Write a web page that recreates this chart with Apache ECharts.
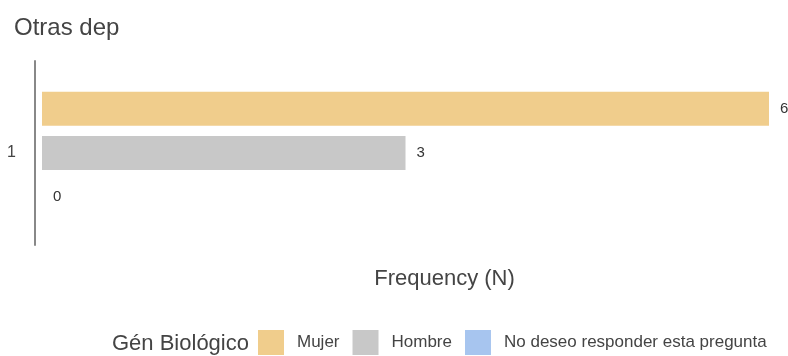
<!DOCTYPE html>
<html>
<head>
<meta charset="utf-8">
<script src="https://cdn.jsdelivr.net/npm/echarts@6/dist/echarts.min.js"></script>
<style>
html,body{margin:0;padding:0;background:#fff;}
#main{width:788px;height:356px;}
</style>
</head>
<body>
<div id="main"></div>
<script>
var categories = ['1'];
var seriesNames = ['Mujer', 'Hombre', 'No deseo responder esta pregunta'];
var mujer = [6];
var hombre = [3];
var noResponde = [0];
var colors = ['#f0cd8c', '#c8c8c8', '#a7c5ef'];

function drawChart(id){
	var font = 'Liberation Sans, Arial, sans-serif';
	var lbl = {show: true, position: 'right', distance: 11, color: '#333', fontSize: 15, fontFamily: font};
	var option = {
		color: colors,
		animation: false,
		title: [
			{text: 'Otras dep', left: 9, top: 11, textStyle: {color: '#444', fontWeight: 'normal', fontSize: 24, fontFamily: font}},
			{text: 'Gén Biológico', left: 107, top: 328, textStyle: {color: '#444', fontWeight: 'normal', fontSize: 22, fontFamily: font}}
		],
		legend: {
			left: 258,
			top: 330,
			width: 530,
			padding: 0,
			itemWidth: 26,
			itemHeight: 25,
			itemGap: 13,
			icon: 'rect',
			data: seriesNames,
			textStyle: {color: '#444', fontSize: 17, fontFamily: font, padding: [0, 0, 0, 8]}
		},
		grid: {left: 42, right: 19, top: 61, height: 184, containLabel: false},
		xAxis: {
			type: 'value',
			min: 0,
			max: 6,
			name: 'Frequency (N)',
			nameLocation: 'middle',
			nameGap: 23,
			nameTextStyle: {color: '#444', fontSize: 22, fontFamily: font, padding: [0, 0, 0, 78]},
			axisLine: {show: false},
			axisTick: {show: false},
			axisLabel: {show: false},
			splitLine: {show: false}
		},
		yAxis: {
			type: 'category',
			data: categories,
			offset: 7,
			axisLine: {onZero: false, lineStyle: {color: '#888', width: 2}},
			axisTick: {show: false},
			axisLabel: {color: '#444', fontSize: 16, fontFamily: font, margin: 19}
		},
		series: [
			{name: seriesNames[0], type: 'bar', data: mujer, barWidth: 34, barGap: '30%', label: lbl},
			{name: seriesNames[1], type: 'bar', data: hombre, barWidth: 34, barGap: '30%', label: lbl},
			{name: seriesNames[2], type: 'bar', data: noResponde, barWidth: 34, barGap: '30%', label: lbl}
		]
	};
	var myChart = echarts.init(document.getElementById(id));
	myChart.setOption(option);
}
drawChart('main');
</script>
</body>
</html>
